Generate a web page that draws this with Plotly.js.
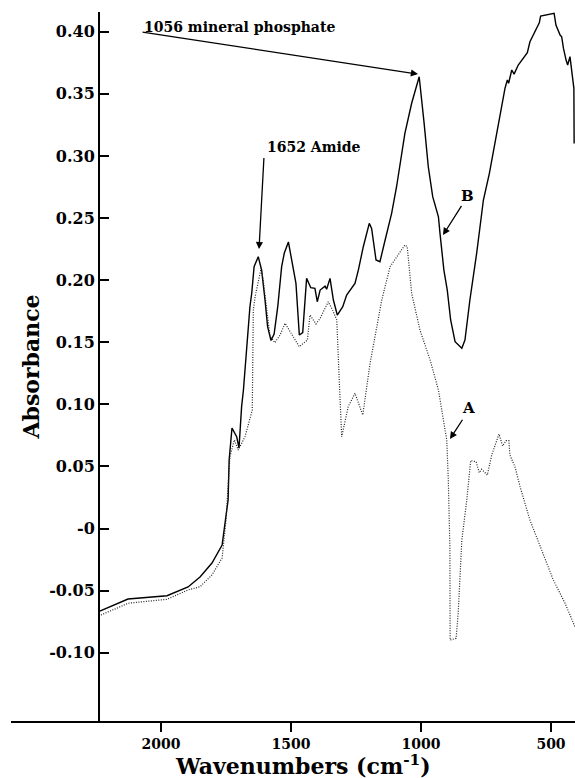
<!DOCTYPE html>
<html>
<head>
<meta charset="utf-8">
<script src="https://cdn.plot.ly/plotly-3.0.1.min.js"></script>
<style>html,body{margin:0;padding:0;background:#fff;}#chart{width:575px;height:778px;}</style>
</head>
<body>
<div id="chart"></div>
<script>
// Spectrum B (solid): wavenumber (cm-1) and absorbance
const wnB = [2240,2127,1977,1896,1850,1804,1765,1742,1738,1727,1709,1700,1690,1683,1670,1658,1651,1642,1626,1613,1600,1590,1577,1565,1551,1536,1526,1510,1481,1468,1455,1440,1424,1408,1399,1388,1369,1363,1350,1337,1322,1301,1286,1254,1241,1222,1199,1190,1173,1158,1138,1113,1094,1074,1062,1036,1007,988,972,955,933,927,912,899,886,869,843,831,812,786,773,760,737,696,677,668,663,651,642,626,613,600,591,581,562,545,540,523,510,488,481,474,465,459,452,442,436,427,420,417,412,411];
const absB = [-0.067,-0.0568,-0.0541,-0.0471,-0.039,-0.0278,-0.0133,0.0229,0.0551,0.0809,0.0739,0.0648,0.0981,0.1115,0.1464,0.1786,0.1896,0.2108,0.2188,0.2081,0.184,0.1625,0.1514,0.1566,0.1786,0.2108,0.2216,0.2307,0.1974,0.1558,0.1577,0.2014,0.1939,0.1934,0.1826,0.192,0.1952,0.1926,0.2014,0.184,0.1719,0.1786,0.188,0.1974,0.2081,0.2269,0.2457,0.2417,0.2162,0.2148,0.2323,0.2538,0.2752,0.3047,0.3182,0.3424,0.3638,0.3262,0.2913,0.2672,0.251,0.2377,0.2081,0.192,0.1679,0.1504,0.1451,0.1518,0.184,0.2216,0.243,0.2645,0.286,0.3316,0.3544,0.3611,0.3585,0.3692,0.3659,0.3732,0.3772,0.3804,0.3831,0.3919,0.40,0.4072,0.4126,0.4134,0.4143,0.4148,0.4054,0.4014,0.3973,0.396,0.3866,0.3772,0.3732,0.3799,0.3678,0.3585,0.3544,0.3101];

// Spectrum A (dotted)
const wnA = [2240,2127,1977,1896,1850,1804,1765,1750,1735,1718,1703,1677,1649,1645,1638,1615,1607,1593,1581,1562,1542,1523,1496,1468,1437,1427,1404,1388,1357,1340,1324,1318,1314,1305,1280,1254,1224,1196,1151,1119,1062,1053,1036,1004,965,933,920,901,895,889,888,865,857,843,824,809,788,776,767,745,728,712,700,686,673,662,658,638,619,581,530,491,446,408];
const absA = [-0.0705,-0.0602,-0.057,-0.0495,-0.0469,-0.0374,-0.0237,0.0068,0.0578,0.0713,0.0632,0.0739,0.0954,0.1759,0.1866,0.2095,0.2001,0.1759,0.155,0.1496,0.1558,0.1652,0.1558,0.1464,0.1518,0.1719,0.1647,0.1692,0.1826,0.1759,0.1679,0.1437,0.1169,0.0739,0.0981,0.1089,0.0914,0.133,0.184,0.2108,0.2283,0.2269,0.1894,0.1598,0.1357,0.1115,0.0954,0.0713,0.039,-0.0147,-0.0898,-0.0884,-0.0683,-0.0093,0.0229,0.0546,0.0538,0.0449,0.0477,0.0431,0.0592,0.0686,0.0761,0.0664,0.0707,0.0707,0.0592,0.0493,0.0337,0.0068,-0.02,-0.0415,-0.0602,-0.0791];

// Axis ticks
const xTickVals = [2000, 1500, 1000, 500];
const xTickText = ["2000", "1500", "1000", "500"];
const yTickVals = [0.40, 0.35, 0.30, 0.25, 0.20, 0.15, 0.10, 0.05, 0, -0.05, -0.10];
const yTickText = ["0.40", "0.35", "0.30", "0.25", "0.20", "0.15", "0.10", "0.05", "-0", "-0.05", "-0.10"];

// Annotation labels
const labelPhosphate = "1056 mineral phosphate";
const labelAmide = "1652 Amide";
const labelB = "B";
const labelA = "A";
const xTitle = "Wavenumbers (cm<sup>-1</sup>)";
const yTitle = "Absorbance";

const serif = "DejaVu Serif, Georgia, serif";

const traces = [
  {x: wnB, y: absB, type: "scatter", mode: "lines", name: "B",
   line: {color: "#000", width: 1.4}, showlegend: false, hoverinfo: "skip"},
  {x: wnA, y: absA, type: "scatter", mode: "lines", name: "A",
   line: {color: "#222", width: 1.2, dash: "1px,1.5px"}, showlegend: false, hoverinfo: "skip"}
];

function arrow(xh, yh, xt, yt) {
  return {x: xh, y: yh, xref: "x", yref: "y", ax: xt, ay: yt, axref: "x", ayref: "y",
          text: "\u00a0", font: {size: 1, color: "#000"}, borderpad: 0,
          showarrow: true, arrowhead: 2, arrowsize: 1.1, arrowwidth: 1.3, arrowcolor: "#000"};
}
function label(txt, x, y, size, xanchor) {
  return {x: x, y: y, xref: "x", yref: "y", text: txt, showarrow: false,
          xanchor: xanchor, yanchor: "middle",
          font: {family: serif, size: size, color: "#000", weight: "bold"}};
}

const layout = {
  width: 575, height: 778,
  margin: {l: 11, r: 0, t: 12, b: 57},
  paper_bgcolor: "#fff", plot_bgcolor: "#fff",
  showlegend: false,
  xaxis: {
    range: [2577, 407.7],
    tickmode: "array", tickvals: xTickVals, ticktext: xTickText,
    ticks: "outside", ticklen: 9, tickwidth: 2, tickcolor: "#000",
    showline: true, linewidth: 2, linecolor: "#000",
    showgrid: false, zeroline: false,
    tickfont: {family: serif, size: 14, color: "#000", weight: "bold"}
  },
  yaxis: {
    range: [-0.155, 0.4159],
    anchor: "free", position: 0.156,
    tickmode: "array", tickvals: yTickVals, ticktext: yTickText,
    ticks: "inside", ticklen: 9, tickwidth: 2, tickcolor: "#000",
    showline: true, linewidth: 2, linecolor: "#000",
    showgrid: false, zeroline: false,
    tickfont: {family: serif, size: 16, color: "#000", weight: "bold"},
    title: {text: yTitle, standoff: 2, font: {family: serif, size: 22, color: "#000", weight: "bold"}}
  },
  annotations: [
    label(labelPhosphate, 2073, 0.4038, 14, "left"),
    arrow(1011.6, 0.3659, 2073, 0.3998),
    label(labelAmide, 1600, 0.3072, 14, "left"),
    arrow(1623, 0.2250, 1604, 0.2991),
    label(labelB, 823, 0.2677, 15, "center"),
    arrow(915.4, 0.2363, 842.3, 0.2605),
    label(labelA, 819, 0.0970, 15, "center"),
    arrow(888.5, 0.0721, 838.5, 0.0882),
    {x: 0.517, y: -(765 - 721) / (721 - 12), xref: "paper", yref: "paper", text: xTitle, showarrow: false,
     xanchor: "center", yanchor: "middle",
     font: {family: serif, size: 22, color: "#000", weight: "bold"}}
  ]
};

Plotly.newPlot("chart", traces, layout, {displayModeBar: false, staticPlot: true});
</script>
</body>
</html>
